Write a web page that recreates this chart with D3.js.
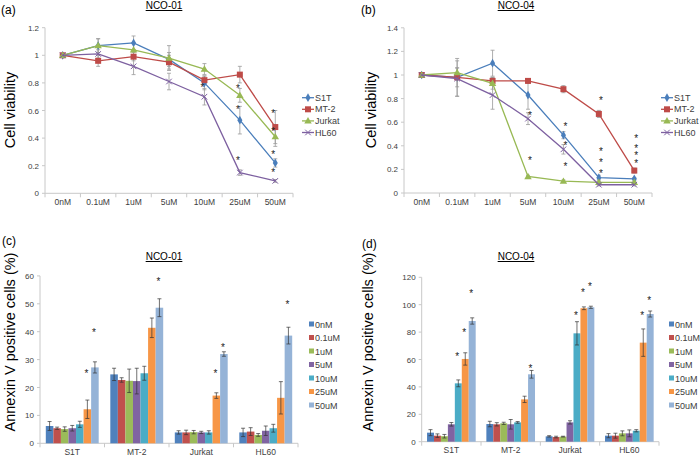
<!DOCTYPE html>
<html>
<head>
<meta charset="utf-8">
<script src="https://cdn.jsdelivr.net/npm/d3@7"></script>
<style>
  body { margin: 0; background: #fff; }
  svg { font-family: "Liberation Sans", Arial, sans-serif; }
</style>
</head>
<body>
<div id="chart"></div>
<script>
// ---- data ----
let doses = ["0nM", "0.1uM", "1uM", "5uM", "10uM", "25uM", "50uM"];
let cells = ["S1T", "MT-2", "Jurkat", "HL60"];

// (a) NCO-01 viability
let viabA_S1T    = [1.00, 1.07, 1.09, 0.97, 0.80, 0.53, 0.22];
let viabA_MT2    = [1.00, 0.96, 0.99, 0.95, 0.82, 0.86, 0.48];
let viabA_Jurkat = [1.00, 1.07, 1.04, 0.98, 0.90, 0.71, 0.41];
let viabA_HL60   = [1.00, 1.01, 0.92, 0.81, 0.70, 0.15, 0.09];
let errA_S1T    = [0, 0.05, 0.05, 0.05, 0.05, 0.10, 0.03];
let errA_MT2    = [0, 0.04, 0.03, 0.05, 0.03, 0.06, 0.12];
let errA_Jurkat = [0, 0.05, 0.05, 0.09, 0.04, 0.05, 0.07];
let errA_HL60   = [0, 0.03, 0.06, 0.06, 0.06, 0.02, 0.01];
let starsA = [["10uM", 0.77], ["25uM", 0.76], ["25uM", 0.61], ["25uM", 0.24],
              ["50uM", 0.58], ["50uM", 0.45], ["50uM", 0.285], ["50uM", 0.157]];

// (b) NCO-04 viability
let viabB_S1T    = [1.00, 0.98, 1.10, 0.83, 0.49, 0.13, 0.12];
let viabB_MT2    = [1.00, 0.98, 0.95, 0.95, 0.88, 0.67, 0.19];
let viabB_Jurkat = [1.00, 1.02, 0.93, 0.14, 0.10, 0.09, 0.09];
let viabB_HL60   = [1.00, 0.97, 0.83, 0.63, 0.37, 0.07, 0.07];
let errB_S1T    = [0, 0.16, 0.11, 0.12, 0.03, 0.02, 0.01];
let errB_MT2    = [0, 0.08, 0.03, 0.02, 0.03, 0.03, 0.02];
let errB_Jurkat = [0, 0.04, 0.05, 0.01, 0.01, 0.01, 0.01];
let errB_HL60   = [0, 0.15, 0.12, 0.05, 0.04, 0.01, 0.01];
let starsB = [["5uM", 0.66], ["5uM", 0.28], ["10uM", 0.57], ["10uM", 0.41], ["10uM", 0.23],
              ["25uM", 0.79], ["25uM", 0.36], ["25uM", 0.265], ["25uM", 0.167],
              ["50uM", 0.464], ["50uM", 0.379], ["50uM", 0.322], ["50uM", 0.252]];

// (c) NCO-01 annexin V
let annC_S1T    = [6.2, 5.4, 5.1, 5.4, 6.8, 12.2, 27.2];
let annC_MT2    = [24.7, 22.7, 22.4, 22.3, 25.1, 41.4, 48.6];
let annC_Jurkat = [3.9, 3.9, 4.0, 3.9, 3.9, 17.1, 32.0];
let annC_HL60   = [3.9, 4.2, 3.0, 4.5, 5.4, 16.3, 38.6];
let errC_S1T    = [1.6, 0.4, 0.8, 1.0, 1.1, 3.3, 2.0];
let errC_MT2    = [2.2, 0.8, 4.2, 4.6, 2.5, 3.5, 3.2];
let errC_Jurkat = [0.6, 0.8, 0.6, 0.4, 0.6, 1.0, 0.8];
let errC_HL60   = [1.5, 1.4, 0.5, 1.7, 1.4, 5.8, 3.0];
let starsC = [["S1T", "25uM", 25.3], ["S1T", "50uM", 39.8], ["MT-2", "50uM", 58.2],
              ["Jurkat", "25uM", 25.3], ["Jurkat", "50uM", 34.6], ["HL60", "50uM", 49.9]];

// (d) NCO-04 annexin V
let annD_S1T    = [6.6, 4.4, 4.0, 12.7, 42.6, 60.4, 88.1];
let annD_MT2    = [12.9, 12.7, 13.4, 12.7, 14.1, 30.9, 49.2];
let annD_Jurkat = [3.9, 3.4, 3.7, 14.1, 79.1, 97.4, 98.1];
let annD_HL60   = [4.4, 4.4, 6.1, 6.1, 8.0, 72.3, 93.2];
let errD_S1T    = [2.2, 1.3, 1.3, 1.3, 2.5, 4.5, 2.3];
let errD_MT2    = [2.0, 1.2, 0.8, 3.5, 0.6, 2.3, 2.8];
let errD_Jurkat = [0.5, 0.6, 0.3, 1.2, 8.5, 1.0, 0.8];
let errD_HL60   = [1.5, 1.8, 1.8, 2.5, 0.8, 10.0, 2.2];
let starsD = [["S1T", "10uM", 62.8], ["S1T", "25uM", 79.9], ["S1T", "50uM", 108.8],
              ["MT-2", "50uM", 53.6], ["Jurkat", "10uM", 92.5], ["Jurkat", "25uM", 109.3],
              ["Jurkat", "50uM", 113.6], ["HL60", "25uM", 92.5], ["HL60", "50uM", 103.4]];

let yTicksA = [0, 0.2, 0.4, 0.6, 0.8, 1, 1.2];
let yTicksB = [0, 0.2, 0.4, 0.6, 0.8, 1, 1.2, 1.4];
let yTicksC = [0, 10, 20, 30, 40, 50, 60];
let yTicksD = [0, 20, 40, 60, 80, 100, 120];

// ---- styles ----
let lineColors = ["#4A7EBB", "#BE4B48", "#98B954", "#7D60A0"];
let markers = ["diamond", "square", "triangle", "cross"];
let barColors = ["#4F81BD", "#C0504D", "#9BBB59", "#8064A2", "#4BACC6", "#F79646", "#95B3D7"];
let axisColor = "#c8c8c8";
let tickText = "#404040";

let width = 700, height = 457;
let svg = d3.select("#chart").append("svg")
    .attr("width", width)
    .attr("height", height);

function yAxis(g, y, ticks, x0, fmt) {
    g.append("line")
        .attr("x1", x0).attr("x2", x0)
        .attr("y1", y(ticks[0])).attr("y2", y(ticks[ticks.length - 1]))
        .attr("stroke", axisColor);
    ticks.forEach(function (t) {
        g.append("line")
            .attr("x1", x0 - 3).attr("x2", x0)
            .attr("y1", y(t)).attr("y2", y(t))
            .attr("stroke", axisColor);
        g.append("text")
            .attr("x", x0 - 6).attr("y", y(t) + 3)
            .attr("text-anchor", "end")
            .style("font-size", "8px")
            .style("fill", tickText)
            .text(fmt(t));
    });
}

function xAxis(g, x, y0, labelY) {
    let r = x.range();
    g.append("line")
        .attr("x1", r[0]).attr("x2", r[1])
        .attr("y1", y0).attr("y2", y0)
        .attr("stroke", axisColor);
    let bounds = x.domain().map((d) => x(d)).concat([r[1]]);
    bounds.forEach(function (b) {
        g.append("line")
            .attr("x1", b).attr("x2", b)
            .attr("y1", y0).attr("y2", y0 + 4)
            .attr("stroke", axisColor);
    });
    x.domain().forEach(function (d) {
        g.append("text")
            .attr("x", x(d) + x.bandwidth() / 2)
            .attr("y", labelY)
            .attr("text-anchor", "middle")
            .style("font-size", "8.5px")
            .style("fill", tickText)
            .text(d);
    });
}

function titles(g, letter, lx, ly, title, tx, ty, ylab, yx, yy) {
    g.append("text").attr("x", lx).attr("y", ly)
        .style("font-size", "12px").style("fill", "#000").text(letter);
    g.append("text").attr("x", tx).attr("y", ty)
        .attr("text-anchor", "middle")
        .style("font-size", "10px").style("fill", "#000")
        .style("text-decoration", "underline")
        .text(title);
    g.append("text")
        .attr("transform", "translate(" + yx + "," + yy + ") rotate(-90)")
        .attr("text-anchor", "middle")
        .style("font-size", "14.5px").style("fill", "#000")
        .text(ylab);
}

function star(g, x, y) {
    g.append("text").attr("x", x).attr("y", y + 4)
        .attr("text-anchor", "middle")
        .style("font-size", "10px").style("fill", "#222")
        .text("*");
}

function drawMarker(g, type, cx, cy, color) {
    if (type === "diamond") {
        g.append("path").attr("d", d3.symbol(d3.symbolDiamond, 22)())
            .attr("transform", "translate(" + cx + "," + cy + ")").attr("fill", color);
    } else if (type === "square") {
        g.append("rect").attr("x", cx - 3).attr("y", cy - 3)
            .attr("width", 6).attr("height", 6).attr("fill", color);
    } else if (type === "triangle") {
        g.append("path").attr("d", d3.symbol(d3.symbolTriangle, 24)())
            .attr("transform", "translate(" + cx + "," + (cy + 0.5) + ")").attr("fill", color);
    } else {
        g.append("path").attr("d", d3.symbol(d3.symbolX, 22)())
            .attr("transform", "translate(" + cx + "," + cy + ")")
            .attr("stroke", color).attr("stroke-width", 1).attr("fill", "none");
    }
}

function lineChart(opt) {
    let g = svg.append("g");
    let x = d3.scaleBand().domain(doses).range([opt.x0, opt.x1]);
    let y = d3.scaleLinear().domain([0, opt.yMax]).range([opt.y0, opt.yTop]);
    yAxis(g, y, opt.ticks, opt.x0, (d) => d3.format("")(d));
    xAxis(g, x, opt.y0, opt.y0 + 12);
    let cx = (d) => x(d) + x.bandwidth() / 2;

    // error bars
    opt.series.forEach(function (s, i) {
        s.forEach(function (v, j) {
            let e = opt.errs[i][j];
            if (e <= 0) return;
            let xx = cx(doses[j]);
            g.append("line").attr("x1", xx).attr("x2", xx)
                .attr("y1", y(v - e)).attr("y2", y(v + e))
                .attr("stroke", "#999").attr("stroke-width", 0.8);
            [v - e, v + e].forEach(function (w) {
                g.append("line").attr("x1", xx - 2).attr("x2", xx + 2)
                    .attr("y1", y(w)).attr("y2", y(w))
                    .attr("stroke", "#999").attr("stroke-width", 0.8);
            });
        });
    });

    let line = d3.line().x((d, j) => cx(doses[j])).y((d) => y(d));
    opt.series.forEach(function (s, i) {
        g.append("path").datum(s).attr("d", line)
            .attr("fill", "none").attr("stroke", lineColors[i]).attr("stroke-width", 1.3);
        s.forEach(function (v, j) {
            drawMarker(g, markers[i], cx(doses[j]), y(v), lineColors[i]);
        });
    });

    opt.stars.forEach(function (s) {
        star(g, cx(s[0]) + opt.starDx, y(s[1]));
    });

    // legend
    cells.forEach(function (c, i) {
        let ly = opt.legY + i * 11.6;
        g.append("line").attr("x1", opt.legX).attr("x2", opt.legX + 12)
            .attr("y1", ly).attr("y2", ly)
            .attr("stroke", lineColors[i]).attr("stroke-width", 1.3);
        drawMarker(g, markers[i], opt.legX + 6, ly, lineColors[i]);
        g.append("text").attr("x", opt.legX + 13).attr("y", ly + 3)
            .style("font-size", "9px").style("fill", tickText).text(c);
    });
    return g;
}

function barChart(opt) {
    let g = svg.append("g");
    let x0 = d3.scaleBand().domain(cells).range([opt.x0, opt.x1])
        .paddingInner(0.18).paddingOuter(0.09);
    let outer = d3.scaleBand().domain(cells).range([opt.x0, opt.x1]);
    let x1 = d3.scaleBand().domain(doses).range([0, x0.bandwidth()]);
    let y = d3.scaleLinear().domain([0, opt.yMax]).range([opt.y0, opt.yTop]);
    yAxis(g, y, opt.ticks, opt.x0, (d) => d);
    xAxis(g, outer, opt.y0, opt.y0 + 11.5);

    opt.series.forEach(function (s, i) {
        let grp = cells[i];
        s.forEach(function (v, j) {
            let bx = x0(grp) + x1(doses[j]);
            g.append("rect")
                .attr("x", bx).attr("y", y(v))
                .attr("width", x1.bandwidth()).attr("height", opt.y0 - y(v))
                .attr("fill", barColors[j]);
        });
    });
    // error bars on top
    opt.series.forEach(function (s, i) {
        let grp = cells[i];
        s.forEach(function (v, j) {
            let e = opt.errs[i][j];
            let xx = x0(grp) + x1(doses[j]) + x1.bandwidth() / 2;
            g.append("line").attr("x1", xx).attr("x2", xx)
                .attr("y1", y(v - e)).attr("y2", y(v + e))
                .attr("stroke", "#333").attr("stroke-width", 0.7);
            [v - e, v + e].forEach(function (w) {
                g.append("line").attr("x1", xx - 2).attr("x2", xx + 2)
                    .attr("y1", y(w)).attr("y2", y(w))
                    .attr("stroke", "#333").attr("stroke-width", 0.7);
            });
        });
    });

    opt.stars.forEach(function (s) {
        let xx = x0(s[0]) + x1(s[1]) + x1.bandwidth() / 2 - 1;
        star(g, xx, y(s[2]));
    });

    doses.forEach(function (d, j) {
        let ly = opt.legY + j * 13.5;
        g.append("rect").attr("x", opt.legX).attr("y", ly - 2.5)
            .attr("width", 5).attr("height", 5).attr("fill", barColors[j]);
        g.append("text").attr("x", opt.legX + 6).attr("y", ly + 3.5)
            .style("font-size", "9px").style("fill", tickText).text(d);
    });
    return g;
}

// (a)
let gA = lineChart({
    x0: 45, x1: 293, y0: 193.3, yTop: 27.7, yMax: 1.2, ticks: yTicksA,
    series: [viabA_S1T, viabA_MT2, viabA_Jurkat, viabA_HL60],
    errs: [errA_S1T, errA_MT2, errA_Jurkat, errA_HL60],
    stars: starsA, starDx: -2, legX: 302, legY: 97.7
});
titles(gA, "(a)", 1, 14, "NCO-01", 164, 9, "Cell viability", 15, 110);

// (b)
let gB = lineChart({
    x0: 404, x1: 652, y0: 193, yTop: 27.8, yMax: 1.4, ticks: yTicksB,
    series: [viabB_S1T, viabB_MT2, viabB_Jurkat, viabB_HL60],
    errs: [errB_S1T, errB_MT2, errB_Jurkat, errB_HL60],
    stars: starsB, starDx: 2, legX: 661, legY: 97.7
});
titles(gB, "(b)", 361, 14, "NCO-04", 516, 9, "Cell viability", 376, 110);

// (c)
let gC = barChart({
    x0: 40, x1: 298, y0: 443.3, yTop: 275.9, yMax: 60, ticks: yTicksC,
    series: [annC_S1T, annC_MT2, annC_Jurkat, annC_HL60],
    errs: [errC_S1T, errC_MT2, errC_Jurkat, errC_HL60],
    stars: starsC, legX: 309, legY: 324
});
titles(gC, "(c)", 2, 245, "NCO-01", 164, 260, "Annexin V positive cells (%)", 15, 342);

// (d)
let gD = barChart({
    x0: 421.7, x1: 659, y0: 441.7, yTop: 277.3, yMax: 120, ticks: yTicksD,
    series: [annD_S1T, annD_MT2, annD_Jurkat, annD_HL60],
    errs: [errD_S1T, errD_MT2, errD_Jurkat, errD_HL60],
    stars: starsD, legX: 669, legY: 324
});
titles(gD, "(d)", 362, 248, "NCO-04", 516, 260, "Annexin V positive cells (%)", 373, 342);
</script>
</body>
</html>
